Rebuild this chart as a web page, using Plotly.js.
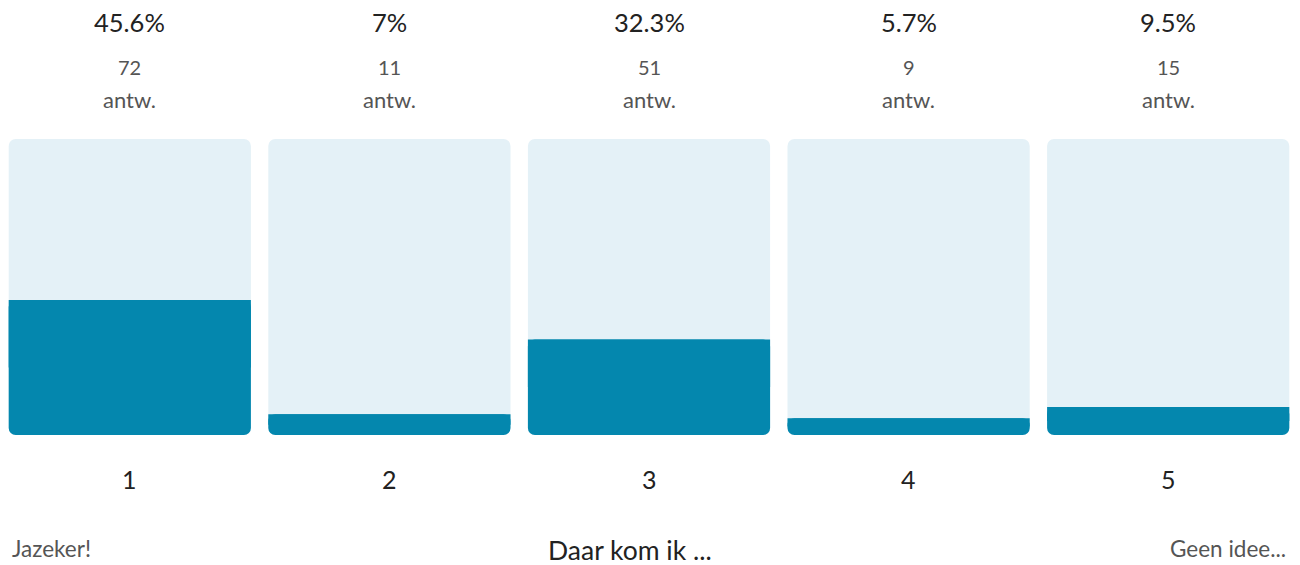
<!DOCTYPE html>
<html><head><meta charset="utf-8">
<script src="https://cdn.plot.ly/plotly-3.0.1.min.js"></script>
<style>html,body{margin:0;padding:0;background:#fff}#chart{width:1300px;height:565px}</style>
</head><body><div id="chart"></div>
<script>
const categories = ['1','2','3','4','5'];
const percents = [45.6, 7, 32.3, 5.7, 9.5];
const percentLabels = ['45.6%','7%','32.3%','5.7%','9.5%'];
const counts = [72, 11, 51, 9, 15];
const countUnit = 'antw.';
const scaleLabels = ['Jazeker!', 'Daar kom ik ...', 'Geen idee...'];
const fullScale = 100;

const FONT = 'Lato, "Source Sans Pro", "Noto Sans", sans-serif';
const LIGHT = '#e4f1f7';
const DARK = '#0487ae';
const R = 7;
const W = 0.933;
const idx = categories.map((c, i) => i);

const traces = [
  // background column: base given -> rounded on all four corners
  {type:'bar', x:idx, y:categories.map(() => fullScale), base:categories.map(() => 0),
   marker:{color:LIGHT, cornerradius:R}, hoverinfo:'skip', width:W},
  // share of answers: rounded on all corners
  {type:'bar', x:idx, y:percents, base:percents.map(() => 0),
   marker:{color:DARK, cornerradius:R}, customdata:percents, hovertemplate:'%{customdata}%<extra></extra>', width:W},
  // upper half of each share bar drawn square, so only the bottom stays rounded
  {type:'bar', x:idx, y:percents.map(v => v / 2), base:percents.map(v => v / 2),
   marker:{color:DARK, cornerradius:0}, hoverinfo:'skip', width:W}
];

const annotations = [];
categories.forEach((c, i) => {
  annotations.push({x:i, xref:'x', y:1, yref:'paper', yanchor:'middle', yshift:117, text:percentLabels[i], showarrow:false, font:{family:FONT, size:25.5, color:'#222'}});
  annotations.push({x:i, xref:'x', y:1, yref:'paper', yanchor:'middle', yshift:72, text:String(counts[i]), showarrow:false, font:{family:FONT, size:20, color:'#555'}});
  annotations.push({x:i, xref:'x', y:1, yref:'paper', yanchor:'middle', yshift:40, text:countUnit, showarrow:false, font:{family:FONT, size:22, color:'#555'}});
  annotations.push({x:i, xref:'x', y:0, yref:'paper', yanchor:'middle', yshift:-44, text:c, showarrow:false, font:{family:FONT, size:25, color:'#222'}});
});
annotations.push({x:0.0077, xref:'paper', xanchor:'left', y:0, yref:'paper', yanchor:'middle', yshift:-113, text:scaleLabels[0], showarrow:false, font:{family:FONT, size:22.5, color:'#555'}});
annotations.push({x:0.4855, xref:'paper', xanchor:'center', y:0, yref:'paper', yanchor:'middle', yshift:-115, text:scaleLabels[1], showarrow:false, font:{family:FONT, size:26.5, color:'#222'}});
annotations.push({x:0.9925, xref:'paper', xanchor:'right', y:0, yref:'paper', yanchor:'middle', yshift:-113, text:scaleLabels[2], showarrow:false, font:{family:FONT, size:22.5, color:'#555'}});

const layout = {
  width:1300, height:565,
  margin:{l:0, r:2, t:139, b:130},
  barmode:'overlay',
  showlegend:false,
  paper_bgcolor:'#fff', plot_bgcolor:'#fff',
  xaxis:{range:[-0.5, 4.5], showticklabels:false, showgrid:false, zeroline:false, showline:false, fixedrange:true},
  yaxis:{range:[0, fullScale], visible:false, showgrid:false, zeroline:false, fixedrange:true},
  annotations:annotations,
  font:{family:FONT}
};
Plotly.newPlot('chart', traces, layout, {displayModeBar:false, staticPlot:true});
</script></body></html>
